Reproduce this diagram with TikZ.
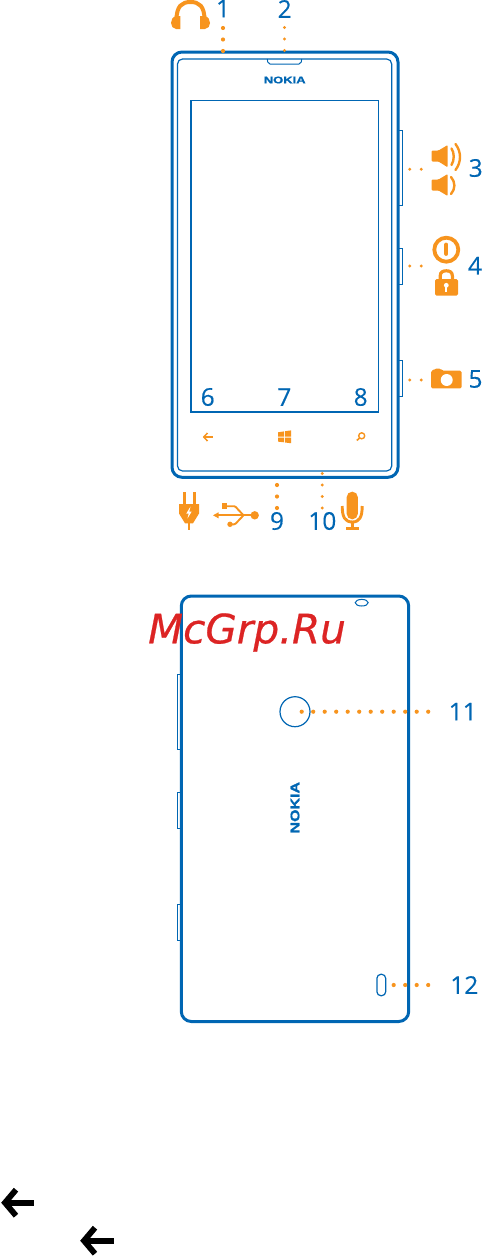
\documentclass[tikz,border=0pt]{standalone}
\usepackage{fontspec}
\setmainfont[FakeBold=0.25]{Open Sans}
\newfontfamily\wmfont[FakeBold=0.6]{DejaVu Sans}
\newfontfamily\logofont[FakeBold=1.2]{Liberation Sans}
\definecolor{nblue}{HTML}{0066B3}
\definecolor{norange}{HTML}{F7941E}
\definecolor{nred}{HTML}{DC2424}
\tikzset{
  numlabel/.style={text=nblue,inner sep=0pt,font=\fontsize{24.5}{27}\selectfont},
  body/.style={draw=nblue,line width=3pt,rounded corners=10pt},
  thinpart/.style={draw=nblue,line width=1.2pt},
  sidebtn/.style={draw=nblue,line width=1pt},
  dotline/.style={draw=norange,line width=4.2pt,line cap=round,dash pattern=on 0pt off 11.5pt},
  dotlinesmall/.style={draw=norange,line width=3.3pt,line cap=round,dash pattern=on 0pt off 11.5pt},
  icon/.style={fill=norange,draw=none},
  iconline/.style={draw=norange,fill=none},
  blackarrow/.style={draw=black,line width=5.8pt},
}
\begin{document}
\begin{tikzpicture}[x=1pt,y=-1pt]
\useasboundingbox (0,0) rectangle (482,1256);
% ---------- front ----------
\draw[sidebtn] (398,130) rectangle (402.3,205);
\draw[sidebtn] (398,248) rectangle (402.3,284);
\draw[sidebtn] (398,360) rectangle (402.3,396);
\draw[body,fill=white] (172,52) rectangle (398,477.3);
\draw[thinpart,rounded corners=5pt] (177.5,59) rectangle (391.7,471);
\draw[draw=nblue,line width=1.4pt] (190.8,100.5) rectangle (378.7,412);
\draw[draw=nblue,line width=1pt,rounded corners=2pt] (267.3,59) -- (268,64) -- (301,64) -- (301.7,59);
\node[inner sep=0pt,text=nblue,font=\logofont\bfseries\fontsize{9.7}{10}\selectfont,xscale=1.34] (logofront) at (284.7,80) {NOKIA};
% front labels
\node[numlabel] (n1) at (223,8.5) {1};
\node[numlabel] (n2) at (284.7,9) {2};
\node[numlabel] (n3) at (475.7,168) {3};
\node[numlabel] (n4) at (475,265.7) {4};
\node[numlabel] (n5) at (475.5,379) {5};
\node[numlabel] (n6) at (207.7,397) {6};
\node[numlabel] (n7) at (284.3,397) {7};
\node[numlabel] (n8) at (360.7,397) {8};
\node[numlabel] (n9) at (277,521) {9};
\node[numlabel] (n10) at (322.3,521) {10};
% dot connectors front
\coordinate (d1a) at (223,28); \coordinate (d1b) at (223,51.2);
\coordinate (d2a) at (284.5,27.5); \coordinate (d2b) at (284.5,50.7);
\coordinate (d3a) at (409.7,169.3); \coordinate (d3b) at (421.4,169.3);
\coordinate (d4a) at (409.7,266); \coordinate (d4b) at (421.4,266);
\coordinate (d5a) at (409.7,380); \coordinate (d5b) at (421.4,380);
\coordinate (d9a) at (277,485); \coordinate (d9b) at (277,508.2);
\coordinate (d10a) at (322.3,473.5); \coordinate (d10b) at (322.3,508.2);
\draw[dotline] (d1a) -- (d1b);
\draw[dotlinesmall] (d2a) -- (d2b);
\draw[dotlinesmall] (d3a) -- (d3b);
\draw[dotlinesmall] (d4a) -- (d4b);
\draw[dotlinesmall] (d5a) -- (d5b);
\draw[dotline] (d9a) -- (d9b);
\draw[dotlinesmall] (d10a) -- (d10b);
% headphones
\draw[iconline,line width=4pt] (176.5,20) .. controls (176.5,6) and (182,2) .. (190.5,2) .. controls (199,2) and (204.5,6) .. (204.5,20);
\fill[icon] (180.4,16) -- (176,16) .. controls (172.5,17) and (171,20) .. (171,23) .. controls (171,26) and (173,29) .. (176,29) -- (180.4,29) -- cycle;
\fill[icon] (200,16) -- (205,16) .. controls (208.5,17) and (210,20) .. (210,23) .. controls (210,26) and (208,29) .. (205,29) -- (200,29) -- cycle;
% speakers
\fill[icon,rounded corners=1pt] (431.7,150.5) -- (438.5,150.5) -- (447.7,145) -- (447.7,167.3) -- (438.5,161.5) -- (431.7,161.5) -- cycle;
\draw[iconline,line width=2.4pt,line cap=round] (451.5,148.5) .. controls (454.5,153) and (454.5,160) .. (451.5,165);
\draw[iconline,line width=2.4pt,line cap=round] (455.5,144) .. controls (461.5,152) and (461.5,162) .. (455.5,170);
\fill[icon,rounded corners=1pt] (431.7,179.5) -- (438.5,179.5) -- (447.7,174) -- (447.7,196) -- (438.5,190.5) -- (431.7,190.5) -- cycle;
\draw[iconline,line width=2.4pt,line cap=round] (451,177) .. controls (455.5,182) and (455.5,189) .. (451,194);
% power
\draw[iconline,line width=3.8pt] (446.3,249.7) circle[radius=12];
\draw[iconline,line width=3.8pt,line cap=round] (446.3,244.5) -- (446.3,254);
% lock
\draw[iconline,line width=3.2pt] (440.2,280) -- (440.2,276) .. controls (440.2,272) and (443,270.8) .. (446.3,270.8) .. controls (449.6,270.8) and (452.4,272) .. (452.4,276) -- (452.4,280);
\fill[icon,rounded corners=1.5pt] (435,279) rectangle (458,295.7);
\fill[white] (446.3,285.3) circle[radius=2.4];
\fill[white] (445.3,285.3) rectangle (447.3,291.5);
% camera
\fill[icon,rounded corners=1.5pt] (431,388.3) -- (431,370.7) -- (433.5,370.7) -- (434.5,368.7) -- (441,368.7) -- (442,370.7) -- (461.7,370.7) -- (461.7,388.3) -- cycle;
\fill[white] (446.7,380) circle[radius=6];
% soft keys
\draw[iconline,line width=1.5pt] (204,437) -- (213.3,437);
\draw[iconline,line width=1.5pt] (207.5,433) -- (203.8,437) -- (207.5,441);
\fill[icon] (278,432.3) -- (284,431.4) -- (284,436.6) -- (278,436.6) -- cycle;
\fill[icon] (285,431.2) -- (291,430.4) -- (291,436.6) -- (285,436.6) -- cycle;
\fill[icon] (278,437.6) -- (284,437.6) -- (284,442.3) -- (278,441.6) -- cycle;
\fill[icon] (285,437.6) -- (291,437.6) -- (291,443.2) -- (285,442.5) -- cycle;
\draw[iconline,line width=1.4pt] (361.7,435.8) circle[radius=3];
\draw[iconline,line width=1.6pt] (359.5,438) -- (356.8,440.5);
% plug
\fill[icon] (182.6,492.3) rectangle (185.6,504);
\fill[icon] (192.6,492.3) rectangle (195.6,504);
\fill[icon] (179,504) -- (199,504) -- (199,513.5) -- (193,523.3) -- (185,523.3) -- (179,513.5) -- cycle;
\fill[icon] (188,523) rectangle (190,530);
\fill[white] (190.5,506.5) -- (186.3,513.5) -- (188.7,513.5) -- (187.5,518.5) -- (191.7,511.5) -- (189.3,511.5) -- cycle;
% usb
\draw[iconline,line width=1.9pt] (216,515.3) -- (254,515.3);
\fill[icon] (213,515.3) -- (218.5,512.3) -- (218.5,518.3) -- cycle;
\fill[icon] (254.7,515.3) circle[radius=4.2];
\draw[iconline,line width=1.9pt,rounded corners=1pt] (243.5,515.3) -- (235,506.2) -- (224,506.2);
\fill[icon] (221.5,503.3) rectangle (227,509.1);
\draw[iconline,line width=1.9pt,rounded corners=1pt] (243.5,515.3) -- (235,524.3) -- (231,524.3);
\fill[icon] (230,524.3) circle[radius=2.7];
% mic
\fill[icon,rounded corners=5.4pt] (346.7,491.7) rectangle (357.8,519.3);
\draw[iconline,line width=2.9pt] (342.2,506) .. controls (342.2,517) and (345,522) .. (352.3,522) .. controls (359.5,522) and (362.2,517) .. (362.2,506);
\draw[iconline,line width=2.9pt] (352.3,522) -- (352.3,528);
\fill[icon] (346,527) rectangle (359,530);
% ---------- back ----------
\draw[sidebtn] (177.3,674.3) rectangle (181,749);
\draw[sidebtn] (177.3,792.3) rectangle (181,828);
\draw[sidebtn] (177.3,904.3) rectangle (181,940);
\draw[body,fill=white] (181.3,596) rectangle (408.7,1021.5);
\draw[draw=nblue,line width=1pt] (361.7,602.7) ellipse[x radius=6.5,y radius=3.3];
\draw[draw=nblue,line width=1.2pt] (295,711.7) circle[radius=15];
\draw[draw=nblue,line width=1.2pt,rounded corners=4pt] (376.9,974.3) rectangle (385.7,995.7);
\node[inner sep=0pt,text=nblue,font=\logofont\bfseries\fontsize{12.5}{13}\selectfont,rotate=90,xscale=1.28] (logoback) at (295,807.7) {NOKIA};
\node[numlabel] (n11) at (462.7,711.7) {11};
\node[numlabel] (n12) at (464.3,985) {12};
\coordinate (d11a) at (301.7,711.7); \coordinate (d11b) at (428.5,711.7);
\coordinate (d12a) at (393.7,985); \coordinate (d12b) at (428.5,985);
\draw[dotline] (d11a) -- (d11b);
\draw[dotline] (d12a) -- (d12b);
% ---------- black arrows ----------
\coordinate (a1tip) at (5,1202.7); \coordinate (a1end) at (34,1202.7);
\coordinate (a2tip) at (84,1240.7); \coordinate (a2end) at (114,1240.7);
\draw[blackarrow] (a1tip) -- (a1end);
\draw[blackarrow,miter limit=10] ([shift={(11,-13)}]a1tip) -- (a1tip) -- ([shift={(11,13)}]a1tip);
\draw[blackarrow] (a2tip) -- (a2end);
\draw[blackarrow,miter limit=10] ([shift={(11,-13)}]a2tip) -- (a2tip) -- ([shift={(11,13)}]a2tip);
% ---------- watermark ----------
\node[anchor=base west,inner sep=0pt,text=nred,font=\wmfont\itshape\fontsize{40.5}{44}\selectfont] (wm) at (148,643.3) {McGrp.Ru};
\end{tikzpicture}
\end{document}
